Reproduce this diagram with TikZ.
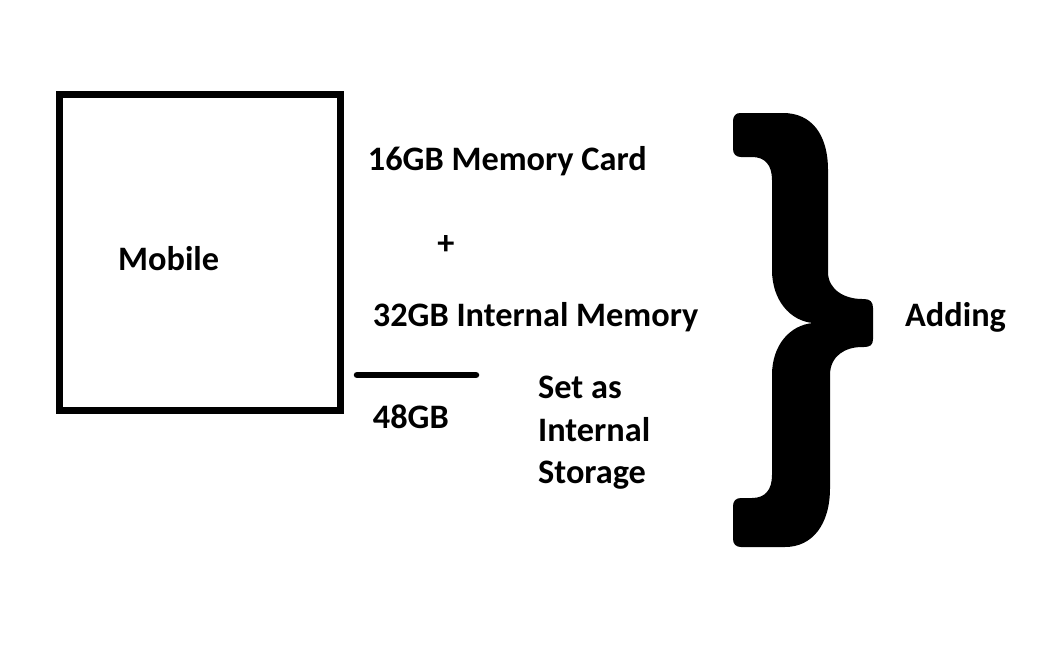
\documentclass[tikz,border=0pt]{standalone}
\usepackage{fontspec}
\setmainfont{Carlito}
\begin{document}
\begin{tikzpicture}[x=1pt,y=-1pt,
  lbl/.style={anchor=base west,inner sep=0pt,font=\fontsize{34.3}{42.7}\selectfont\bfseries},
  boxline/.style={line width=7pt},
  bracefill/.style={fill=black}]
\useasboundingbox[fill=white] (0,0) rectangle (1041,654);
\draw[boxline] (59.5,94) rectangle (340,410.7);
\node[lbl] (mobile) at (118,270) {Mobile};
\node[lbl] (card) at (367.7,170) {16GB Memory Card};
\node[anchor=center,inner sep=0pt,font=\fontsize{34.3}{40}\selectfont\bfseries] (plus) at (446,245) {+};
\node[lbl] (internal) at (372.7,326.7) {32GB Internal Memory};
\coordinate (sumL) at (357,375);
\coordinate (sumR) at (476,375);
\draw[line width=6.5pt,line cap=round] (sumL) -- (sumR);
\node[lbl] (total) at (372.7,428) {48GB};
\node[lbl] (set1) at (538,398) {Set as};
\node[lbl] (set2) at (538,441.7) {Internal};
\node[lbl] (set3) at (538,483.3) {Storage};
\node[lbl] (adding) at (905,326.7) {Adding};
% brace
\fill[bracefill] (740,113) -- (783,113) .. controls (812,113) and (828,135) .. (828,170)
  -- (828,272) .. controls (828,290) and (845,299) .. (862,299)
  -- (864,299) .. controls (870,299) and (873,302) .. (873,308)
  -- (873,339) .. controls (873,345) and (870,347) .. (864,347)
  -- (862,347) .. controls (845,347) and (830,356) .. (830,375)
  -- (830,488) .. controls (830,525) and (812,547) .. (785,547)
  -- (741,547) .. controls (736,547) and (733,544) .. (733,539)
  -- (733,506) .. controls (733,501) and (736,498) .. (741,498)
  -- (752,498) .. controls (765,498) and (772,490) .. (772,475)
  -- (772,375) .. controls (772,345) and (790,325) .. (813,323)
  .. controls (790,321) and (772,300) .. (772,270)
  -- (772,180) .. controls (772,165) and (765,157) .. (752,157)
  -- (741,157) .. controls (736,157) and (733,154) .. (733,149)
  -- (733,121) .. controls (733,116) and (736,113) .. (740,113) -- cycle;
\end{tikzpicture}
\end{document}
